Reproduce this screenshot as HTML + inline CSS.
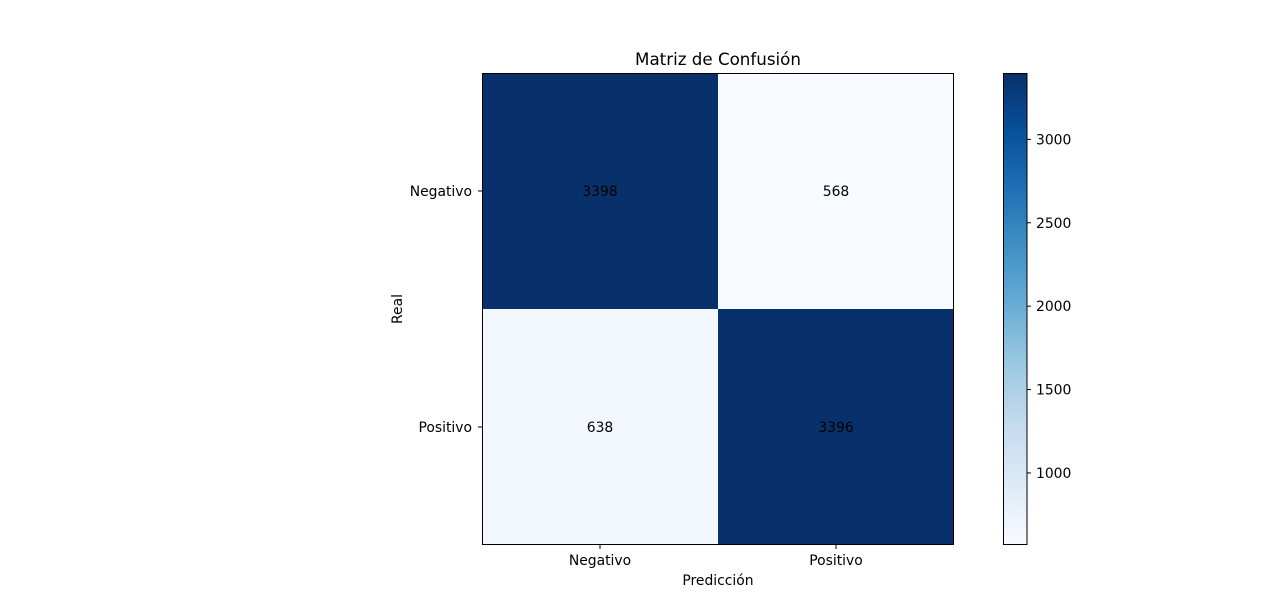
<!DOCTYPE html>
<html><head><meta charset="utf-8"><style>
body{margin:0;background:#fff;}
svg{display:block;font-family:"DejaVu Sans","Liberation Sans",sans-serif;}
</style></head><body>
<svg id="chart" width="1280" height="612" viewBox="0 0 1280 612" xmlns="http://www.w3.org/2000/svg">
<defs><linearGradient id="cbgrad" x1="0" y1="1" x2="0" y2="0">
<stop offset="0" stop-color="#f7fbff"/><stop offset="0.125" stop-color="#deebf7"/><stop offset="0.25" stop-color="#c6dbef"/><stop offset="0.375" stop-color="#9ecae1"/><stop offset="0.5" stop-color="#6baed6"/><stop offset="0.625" stop-color="#4292c6"/><stop offset="0.75" stop-color="#2171b5"/><stop offset="0.875" stop-color="#08519c"/><stop offset="1" stop-color="#08306b"/>
</linearGradient></defs>
<text x="718" y="65" font-size="16.7" text-anchor="middle">Matriz de Confusión</text>
<g id="cells"></g>
<rect x="482.5" y="73.5" width="471" height="471" fill="none" stroke="#000" stroke-width="1"/>
<g id="ticks"></g>
<text x="718" y="585" font-size="13.9" text-anchor="middle">Predicción</text>
<text transform="translate(402,309) rotate(-90)" font-size="13.9" text-anchor="middle">Real</text>
<rect x="1003.5" y="73.5" width="23.5" height="471" fill="url(#cbgrad)" stroke="#000" stroke-width="1"/>
<g id="cbticks"></g>
</svg>
<script>
const classes = ["Negativo","Positivo"];
const matrixRow0 = [3398, 568];
const matrixRow1 = [638, 3396];
const cbTicks = [1000,1500,2000,2500,3000];
const matrix = [matrixRow0, matrixRow1];
const vmin = Math.min(...matrix.flat()), vmax = Math.max(...matrix.flat());
const X0=482, Y0=73, W=472, H=472;
const FS=13.9;
const stops=["#f7fbff","#deebf7","#c6dbef","#9ecae1","#6baed6","#4292c6","#2171b5","#08519c","#08306b"];
function hex(h){return [1,3,5].map(i=>parseInt(h.substr(i,2),16));}
function cmap(t){t=Math.max(0,Math.min(1,t));const p=t*(stops.length-1);const i=Math.min(Math.floor(p),stops.length-2);const f=p-i;const a=hex(stops[i]),b=hex(stops[i+1]);return "rgb("+a.map((v,k)=>Math.round(v+(b[k]-v)*f)).join(",")+")";}
const NS="http://www.w3.org/2000/svg";
const cw=W/classes.length, ch=H/classes.length;
const cells=document.getElementById("cells");
matrix.forEach((row,r)=>row.forEach((v,c)=>{
 const t=(v-vmin)/(vmax-vmin);
 const rect=document.createElementNS(NS,"rect");
 
 
 rect.setAttribute("x",X0+c*cw);rect.setAttribute("y",Y0+r*ch);rect.setAttribute("width",cw);rect.setAttribute("height",ch);rect.setAttribute("fill",cmap(t));
 cells.appendChild(rect);
 const tx=document.createElementNS(NS,"text");
 
 
 tx.setAttribute("x",X0+(c+0.5)*cw);tx.setAttribute("y",Y0+(r+0.5)*ch+5);tx.setAttribute("font-size",FS);tx.setAttribute("text-anchor","middle");tx.setAttribute("fill","#000");
 tx.textContent=v;cells.appendChild(tx);
}));
const ticks=document.getElementById("ticks");
classes.forEach((name,i)=>{
 const cx=X0+(i+0.5)*cw, cy=Y0+(i+0.5)*ch;
 let l=document.createElementNS(NS,"line");
 
 
 l.setAttribute("x1",cx);l.setAttribute("x2",cx);l.setAttribute("y1",545);l.setAttribute("y2",549);l.setAttribute("stroke","#000");ticks.appendChild(l);
 let t=document.createElementNS(NS,"text");
 
 
 t.setAttribute("x",cx);t.setAttribute("y",565);t.setAttribute("font-size",FS);t.setAttribute("text-anchor","middle");t.textContent=name;ticks.appendChild(t);
 l=document.createElementNS(NS,"line");
 
 
 l.setAttribute("x1",478);l.setAttribute("x2",482);l.setAttribute("y1",cy);l.setAttribute("y2",cy);l.setAttribute("stroke","#000");ticks.appendChild(l);
 t=document.createElementNS(NS,"text");
 
 
 t.setAttribute("x",472);t.setAttribute("y",cy+5);t.setAttribute("font-size",FS);t.setAttribute("text-anchor","end");t.textContent=name;ticks.appendChild(t);
});
const cb=document.getElementById("cbticks");
cbTicks.forEach(v=>{
 const y=545-(v-vmin)/(vmax-vmin)*472;
 const l=document.createElementNS(NS,"line");
 
 
 l.setAttribute("x1",1027);l.setAttribute("x2",1031);l.setAttribute("y1",y);l.setAttribute("y2",y);l.setAttribute("stroke","#000");cb.appendChild(l);
 const t=document.createElementNS(NS,"text");
 
 
 t.setAttribute("x",1036);t.setAttribute("y",y+5);t.setAttribute("font-size",FS);t.textContent=v;cb.appendChild(t);
});
</script>
</body></html>
